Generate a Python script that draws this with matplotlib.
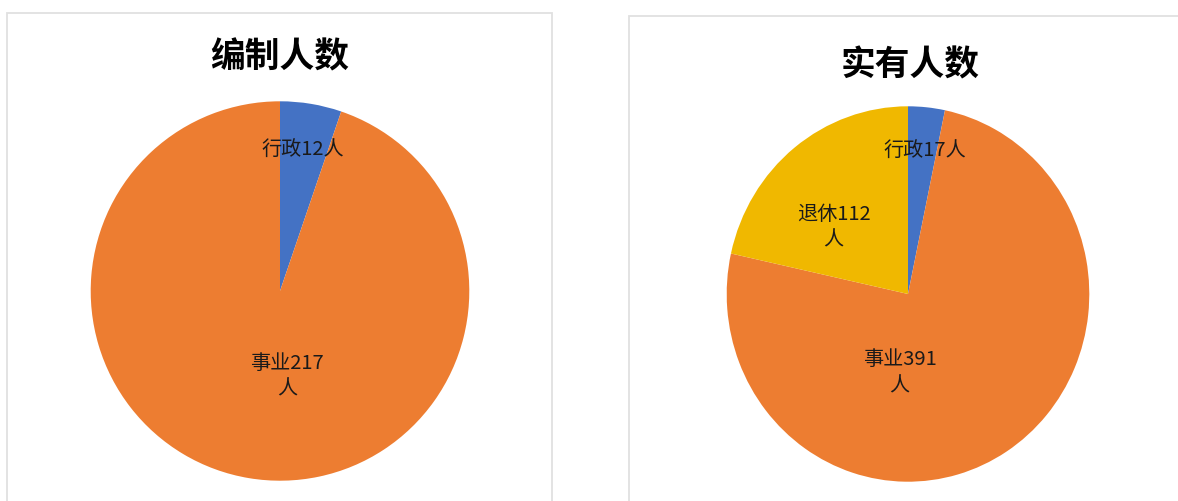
import matplotlib
matplotlib.use("Agg")
import matplotlib.pyplot as plt
from matplotlib.patches import Rectangle

plt.rcParams['font.family'] = ['Noto Sans CJK SC', 'DejaVu Sans']

# ---- data ----
left_title = "编制人数"
left_categories = ["行政", "事业"]
left_values = [12, 217]

right_title = "实有人数"
right_categories = ["行政", "事业", "退休"]
right_values = [17, 391, 112]

colors = {"行政": "#4472C4", "事业": "#ED7D31", "退休": "#F0B800"}

# label placement (pie units) and line breaks, style only
left_label_pos = [(0.119, 0.749), (0.037, -0.443)]
left_label_fmt = ["{c}{v}人", "{c}{v}\n人"]
right_label_pos = [(0.092, 0.763), (-0.046, -0.414), (-0.41, 0.36)]
right_label_fmt = ["{c}{v}人", "{c}{v}\n人", "{c}{v}\n人"]

W, H = 1178, 502
fig = plt.figure(figsize=(W / 100, H / 100), dpi=100)
fig.patch.set_facecolor("white")


def px_axes(x0, y_top, w, h):
    return fig.add_axes([x0 / W, (H - y_top - h) / H, w / W, h / H])


# chart frames
for (x0, y0, x1, y1) in [(7, 14, 552, 520), (629, 17, 1200, 520)]:
    fig.patches.append(Rectangle((x0 / W, (H - y1) / H), (x1 - x0) / W, (y1 - y0) / H,
                                 transform=fig.transFigure, fill=False,
                                 edgecolor="#E0E0E0", linewidth=1.3, zorder=0))


def draw_pie(ax, cats, vals, pos, fmts):
    ax.pie(vals, colors=[colors[c] for c in cats], startangle=90, counterclock=False,
           radius=1.0, wedgeprops=dict(linewidth=0))
    ax.set_aspect('auto')
    ax.set_xlim(-1, 1)
    ax.set_ylim(-1, 1)
    ax.axis('off')
    for c, v, p, f in zip(cats, vals, pos, fmts):
        ax.text(p[0], p[1], f.format(c=c, v=v), ha="center", va="center",
                fontsize=14.5, color="#1a1a1a", linespacing=1.3)


axL = px_axes(90.7, 102.3, 378.6, 379.4)
draw_pie(axL, left_categories, left_values, left_label_pos, left_label_fmt)

axR = px_axes(726.7, 107.3, 362.6, 375.4)
draw_pie(axR, right_categories, right_values, right_label_pos, right_label_fmt)

fig.text(279.5 / W, 1 - 57 / H, left_title, ha="center", va="center",
         fontsize=25, fontweight="bold", color="black")
fig.text(909.7 / W, 1 - 65 / H, right_title, ha="center", va="center",
         fontsize=25, fontweight="bold", color="black")

fig.savefig("out.png", dpi=100, facecolor="white")
